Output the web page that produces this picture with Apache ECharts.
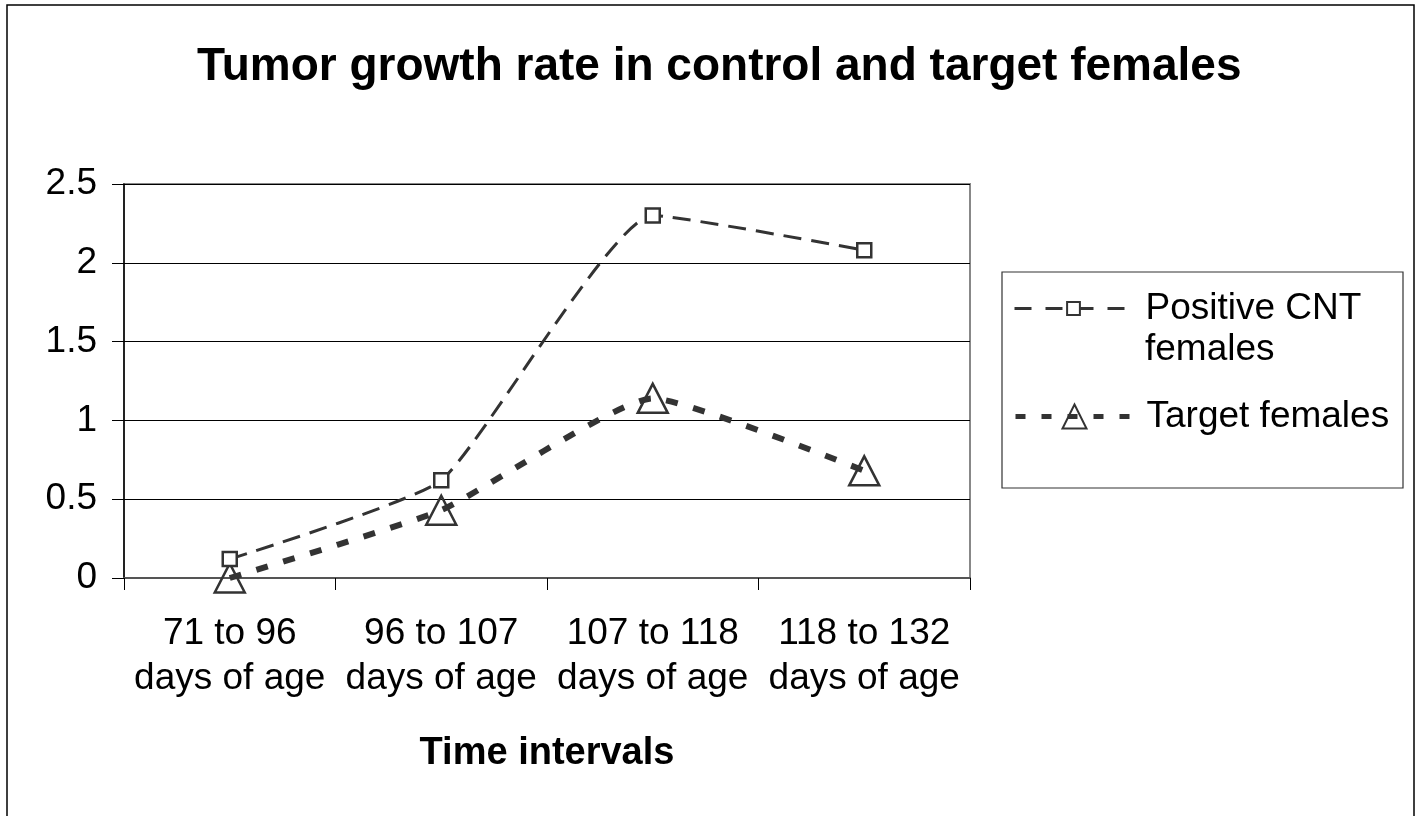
<!DOCTYPE html>
<html>
<head>
<meta charset="utf-8">
<script src="https://cdn.jsdelivr.net/npm/echarts@6/dist/echarts.min.js"></script>
<style>html,body{margin:0;padding:0;background:#fff}#c{width:1420px;height:816px}</style>
</head>
<body>
<div id="c"></div>
<script>
const categories = ['71 to 96\ndays of age', '96 to 107\ndays of age', '107 to 118\ndays of age', '118 to 132\ndays of age'];
const positiveCNT = [0.12, 0.62, 2.3, 2.08];
const targetFemales = [0.0, 0.43, 1.14, 0.68];
const yTicks = [0, 0.5, 1, 1.5, 2, 2.5];
const seriesNames = ['Positive CNT females', 'Target females'];

const FONT = 'Liberation Sans, Arial, sans-serif';
const chart = echarts.init(document.getElementById('c'), null, {renderer: 'canvas'});
chart.setOption({
  backgroundColor: '#fff',
  animation: false,
  title: {
    text: 'Tumor growth rate in control and target females',
    left: 192, top: 39,
    textStyle: {fontFamily: FONT, fontSize: 46, fontWeight: 'bold', color: '#000'}
  },
  grid: {left: 124, right: 450, top: 184, bottom: 238, show: true, borderColor: '#888', borderWidth: 2, backgroundColor: 'transparent'},
  xAxis: {
    type: 'category', data: categories, boundaryGap: true,
    name: 'Time intervals', nameLocation: 'middle', nameGap: 157,
    nameTextStyle: {fontFamily: FONT, fontSize: 38, fontWeight: 'bold', color: '#000'},
    axisLine: {lineStyle: {color: '#555', width: 2}},
    axisTick: {show: true, length: 12, inside: false, lineStyle: {color: '#000', width: 1}},
    axisLabel: {fontFamily: FONT, fontSize: 37, color: '#000', lineHeight: 45, margin: 33, interval: 0}
  },
  yAxis: {
    type: 'value', min: yTicks[0], max: yTicks[yTicks.length - 1], interval: 0.5,
    axisLine: {show: true, lineStyle: {color: '#000', width: 1.5}},
    axisTick: {show: true, length: 12, lineStyle: {color: '#000', width: 1}},
    axisLabel: {fontFamily: FONT, fontSize: 37, color: '#000', margin: 27},
    splitLine: {show: true, lineStyle: {color: '#000', width: 1}}
  },
  legend: [
    {
      data: [seriesNames[0]], orient: 'vertical', left: 1008, top: 285,
      itemWidth: 118, itemHeight: 16, itemGap: 0,
      formatter: () => 'Positive CNT',
      lineStyle: {width: 3, type: [17, 14], color: '#333'},
      textStyle: {fontFamily: FONT, fontSize: 37, color: '#000', padding: [0, 0, 0, 8]}
    },
    {
      data: [seriesNames[1]], orient: 'vertical', left: 1008, top: 393,
      itemWidth: 118, itemHeight: 30, itemGap: 0,
      lineStyle: {width: 5, type: [10, 16], color: '#333'},
      textStyle: {fontFamily: FONT, fontSize: 37, color: '#000', padding: [0, 0, 0, 8]}
    }
  ],
  graphic: [
    {type: 'rect', silent: true, shape: {x: 7, y: 5, width: 1407, height: 840}, style: {fill: 'none', stroke: '#000', lineWidth: 1.5}},
    {type: 'rect', silent: true, shape: {x: 1002, y: 272, width: 401, height: 216}, style: {fill: 'none', stroke: '#333', lineWidth: 1.2}},
    {type: 'text', silent: true, left: 1145, top: 331, style: {text: 'females', font: '37px ' + FONT, fill: '#000'}}
  ],
  series: [
    {
      name: seriesNames[0], type: 'line', data: positiveCNT, smooth: 0.15,
      symbol: 'rect', symbolSize: 14,
      itemStyle: {color: '#fff', borderColor: '#333', borderWidth: 2.5},
      lineStyle: {color: '#333', width: 3, type: [18, 10]},
      z: 3
    },
    {
      name: seriesNames[1], type: 'line', data: targetFemales, smooth: 0.15,
      symbol: 'triangle', symbolSize: [30, 29],
      itemStyle: {color: 'rgba(255,255,255,0)', borderColor: '#333', borderWidth: 2.5},
      lineStyle: {color: '#333', width: 6, type: [12, 16]},
      z: 2
    }
  ]
});
</script>
</body>
</html>
